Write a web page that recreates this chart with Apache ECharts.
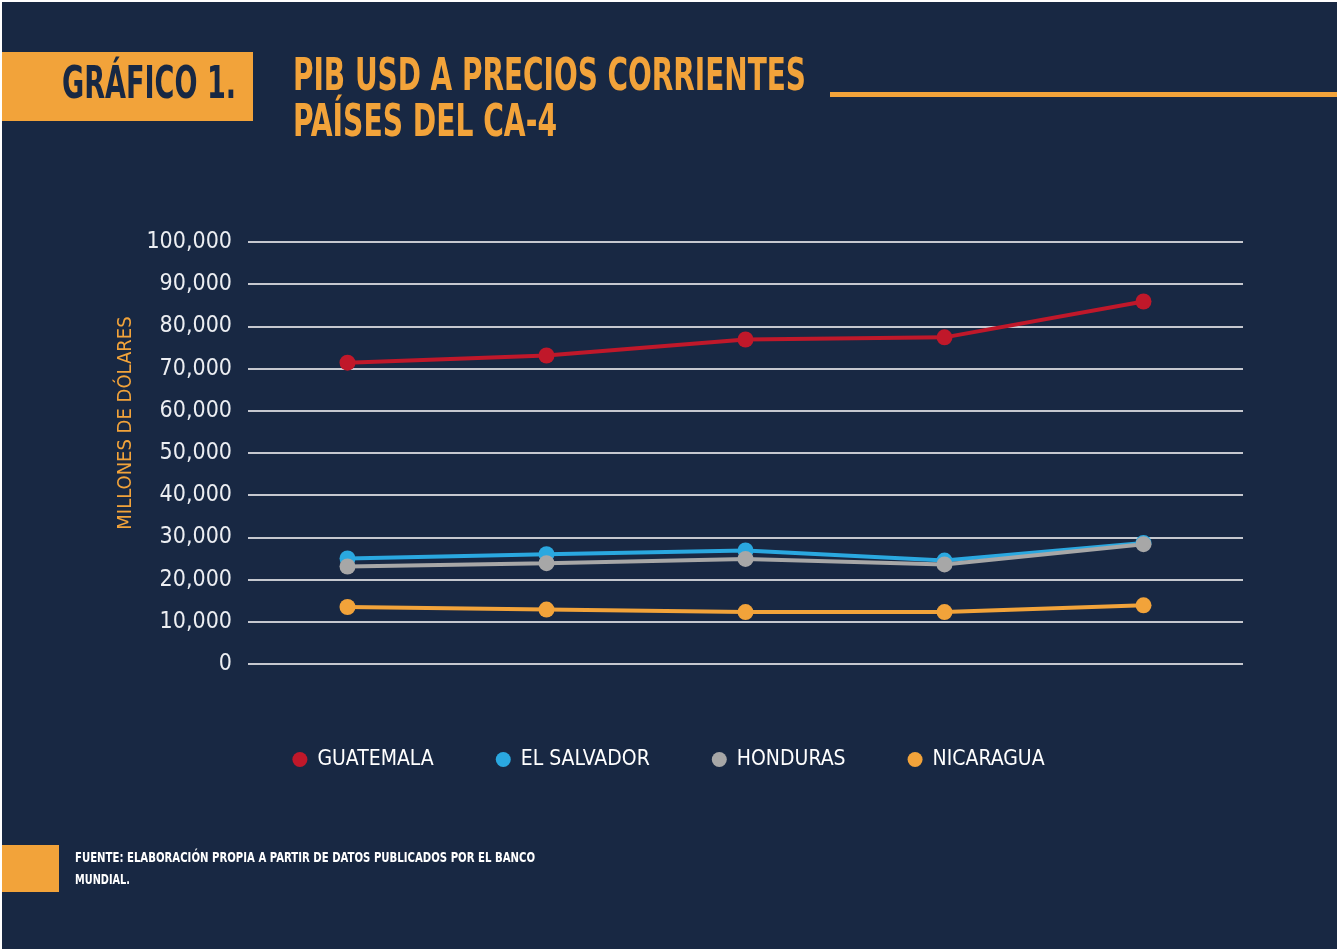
<!DOCTYPE html>
<html>
<head>
<meta charset="utf-8">
<script src="https://cdn.jsdelivr.net/npm/echarts@6/dist/echarts.min.js"></script>
<style>
  html, body { margin: 0; padding: 0; background: #182843; }
  #grafico { width: 1337px; height: 949px; }
</style>
</head>
<body>
<div id="grafico"></div>
<script>
// datos (millones de USD)
const anios = ["2017", "2018", "2019", "2020", "2021"];
const guatemala = [71400, 73100, 76900, 77400, 85900];
const elSalvador = [25000, 26000, 26900, 24500, 28700];
const honduras = [23100, 23900, 24900, 23600, 28400];
const nicaragua = [13500, 12900, 12300, 12300, 13900];
const ticksY = [0, 10000, 20000, 30000, 40000, 50000, 60000, 70000, 80000, 90000, 100000];

const fuente = '"DejaVu Sans Condensed", "Liberation Sans", sans-serif';
const naranja = "#f2a33a";
const fondo = "#182843";

// el original usa una tipografia muy condensada: se comprime en horizontal
const ctx = document.createElement("canvas").getContext("2d");
const anchoTexto = (texto, font) => {
  ctx.font = font;
  return ctx.measureText(texto).width;
};

const textoComprimido = (texto, x, y, font, ancho, color) => ({
  type: "text",
  x: x,
  y: y,
  scaleX: ancho / anchoTexto(texto, font),
  style: { text: texto, fill: color, font: font, textVerticalAlign: "middle" },
});

const chartDom = document.getElementById("grafico");
const myChart = echarts.init(chartDom, null, { renderer: "canvas" });

const serie = (nombre, datos, color) => ({
  name: nombre,
  type: "line",
  data: datos,
  symbol: "circle",
  symbolSize: 16,
  itemStyle: { color: color },
  lineStyle: { color: color, width: 4 },
  animation: false,
});

const fTitulo = "bold 45px " + fuente;
const fFuente = "bold 14px " + fuente;

const option = {
  backgroundColor: fondo,
  textStyle: { fontFamily: fuente },
  grid: { left: 248, right: 94, top: 242, bottom: 285 },
  legend: {
    left: "center",
    top: 744,
    icon: "circle",
    itemWidth: 15,
    itemHeight: 15,
    itemGap: 62,
    textStyle: { color: "#ffffff", fontSize: 21, fontFamily: fuente, padding: [0, 0, 0, 5] },
    data: ["GUATEMALA", "EL SALVADOR", "HONDURAS", "NICARAGUA"],
  },
  xAxis: {
    type: "category",
    data: anios,
    boundaryGap: true,
    axisLine: { show: false },
    axisTick: { show: false },
    axisLabel: { show: false },
  },
  yAxis: {
    type: "value",
    min: ticksY[0],
    max: ticksY[ticksY.length - 1],
    interval: 10000,
    name: "MILLONES DE DÓLARES",
    nameLocation: "middle",
    nameGap: 96,
    nameTextStyle: { color: naranja, fontSize: 20, fontFamily: fuente, padding: [0, 0, 0, 60] },
    axisLine: { show: false },
    axisTick: { show: false },
    axisLabel: {
      margin: 16,
      color: "#eceef2",
      fontSize: 23,
      fontFamily: fuente,
      formatter: (v) => v.toLocaleString("en-US"),
    },
    splitLine: { lineStyle: { color: "#c5c8cf", width: 2 } },
  },
  series: [
    serie("GUATEMALA", guatemala, "#c0182a"),
    serie("EL SALVADOR", elSalvador, "#2aa8e0"),
    serie("HONDURAS", honduras, "#a7a7a7"),
    serie("NICARAGUA", nicaragua, naranja),
  ],
  graphic: [
    { type: "rect", shape: { x: 0, y: 0, width: 1337, height: 2 }, style: { fill: "#ffffff" } },
    { type: "rect", shape: { x: 0, y: 0, width: 2, height: 949 }, style: { fill: "#ffffff" } },
    { type: "rect", shape: { x: 2, y: 52, width: 251, height: 69 }, style: { fill: naranja } },
    textoComprimido("GRÁFICO 1.", 62, 86, fTitulo, 174, fondo),
    textoComprimido("PIB USD A PRECIOS CORRIENTES", 293, 78, fTitulo, 513, naranja),
    textoComprimido("PAÍSES DEL CA-4", 293, 124, fTitulo, 264, naranja),
    { type: "rect", shape: { x: 830, y: 92, width: 507, height: 5 }, style: { fill: naranja } },
    { type: "rect", shape: { x: 2, y: 845, width: 57, height: 47 }, style: { fill: naranja } },
    textoComprimido("FUENTE: ELABORACIÓN PROPIA A PARTIR DE DATOS PUBLICADOS POR EL BANCO", 75, 858, fFuente, 460, "#ffffff"),
    textoComprimido("MUNDIAL.", 75, 880, fFuente, 55, "#ffffff"),
  ],
};

option && myChart.setOption(option);
</script>
</body>
</html>
